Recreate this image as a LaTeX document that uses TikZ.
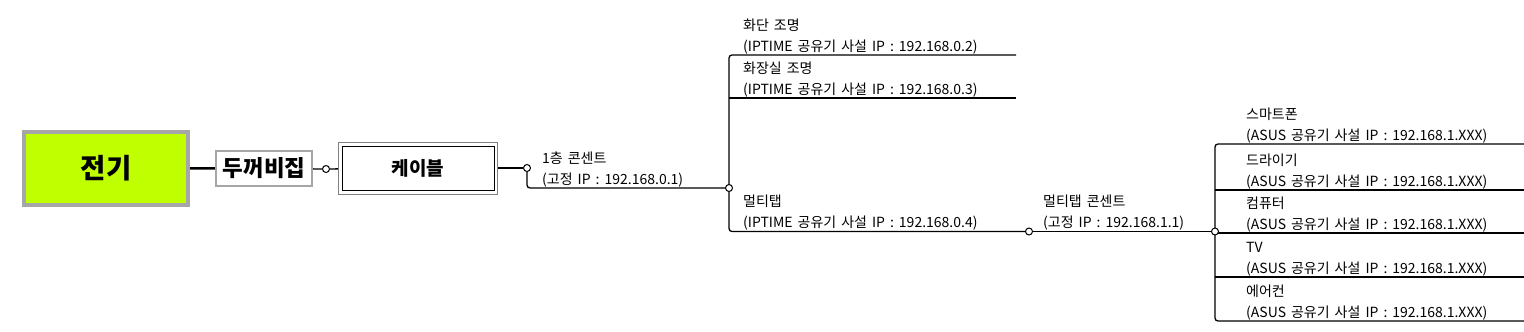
\documentclass[tikz,border=0pt]{standalone}
\usepackage{fontspec}
\setmainfont{Noto Sans CJK KR}[WordSpace=1.6]
\usetikzlibrary{positioning,shadows,backgrounds}
\definecolor{rootlime}{HTML}{BFFF00}
\definecolor{framegray}{HTML}{A6A6A6}

\begin{document}
\begin{tikzpicture}[x=1pt,y=-1pt,
  link/.style={line width=1.3pt},
  knob/.style={circle, draw, fill=white, line width=1pt, minimum size=7pt, inner sep=0pt},
  topic/.style={anchor=south west, align=left, inner sep=2pt, font=\fontsize{14}{21}\selectfont}]
\useasboundingbox (0,0) rectangle (1524,332);

% main boxes
\node[draw=framegray, line width=4pt, fill=rootlime, minimum width=164pt, minimum height=73pt, font=\fontsize{27.5}{30}\selectfont\bfseries, drop shadow={shadow xshift=2pt, shadow yshift=-2pt, fill=gray!80}] (root) at (106,168) {전기};
\node[draw=framegray, line width=2pt, fill=white, minimum width=96pt, minimum height=35pt, font=\fontsize{22.5}{24}\selectfont\bfseries] (fusebox) at (264,168.5) {두꺼비집};
\node[draw=gray, fill=white, minimum width=159pt, minimum height=52pt, font=\fontsize{19}{20}\selectfont\bfseries] (cable) at (418,168) {케이블};
\draw ([shift={(4pt,4pt)}]cable.south west) rectangle ([shift={(-4pt,-4pt)}]cable.north east);

% knobs
\node[knob] (k0) at (326,169) {};
\node[knob] (k1) at (527,168) {};
\node[knob] (k2) at (729,188) {};
\node[knob] (k3) at (1029,231.5) {};
\node[knob] (k4) at (1215,231.5) {};

% topics
\node[topic] (outlet) at (540,189) {1층 콘센트\\(고정 IP : 192.168.0.1)};
\node[topic] (flower) at (741,56) {화단 조명\\(IPTIME 공유기 사설 IP : 192.168.0.2)};
\node[topic] (restroom) at (741,99) {화장실 조명\\(IPTIME 공유기 사설 IP : 192.168.0.3)};
\node[topic] (mtap) at (741,232) {멀티탭\\(IPTIME 공유기 사설 IP : 192.168.0.4)};
\node[topic] (mtapout) at (1041,232) {멀티탭 콘센트\\(고정 IP : 192.168.1.1)};
\node[topic] (phone) at (1244,145) {스마트폰\\(ASUS 공유기 사설 IP : 192.168.1.XXX)};
\node[topic] (dryer) at (1244,191) {드라이기\\(ASUS 공유기 사설 IP : 192.168.1.XXX)};
\node[topic] (pc) at (1244,234) {컴퓨터\\(ASUS 공유기 사설 IP : 192.168.1.XXX)};
\node[topic] (tv) at (1244,278) {TV\\(ASUS 공유기 사설 IP : 192.168.1.XXX)};
\node[topic] (aircon) at (1244,322) {에어컨\\(ASUS 공유기 사설 IP : 192.168.1.XXX)};

\coordinate (flowerE) at (1016,55);
\coordinate (restroomE) at (1016,98);
\coordinate (phoneE) at (1524,144);
\coordinate (dryerE) at (1524,190);
\coordinate (pcE) at (1524,233);
\coordinate (tvE) at (1524,277);
\coordinate (airconE) at (1524,321);

% connectors
\begin{scope}[on background layer]
\draw[line width=2.5pt] (root) -- (fusebox);
\draw[link] (fusebox) -- (k0);
\draw[link] (k0) -- (cable);
\draw[link] (cable) -- (k1);
\draw[link, rounded corners=3pt] (k1) |- (k2);
\draw[link, rounded corners=3pt] (flowerE) -- (flowerE -| k2) -- (k3 -| k2) -- (k3);
\draw[link] (restroomE -| k2) -- (restroomE);
\draw[link] (k3) -- (k4);
\draw[link, rounded corners=3pt] (phoneE) -- (phoneE -| k4) -- (airconE -| k4) -- (airconE);
\draw[link] (dryerE -| k4) -- (dryerE);
\draw[link] (pcE -| k4) -- (pcE);
\draw[link] (tvE -| k4) -- (tvE);
\end{scope}
\end{tikzpicture}
\end{document}
